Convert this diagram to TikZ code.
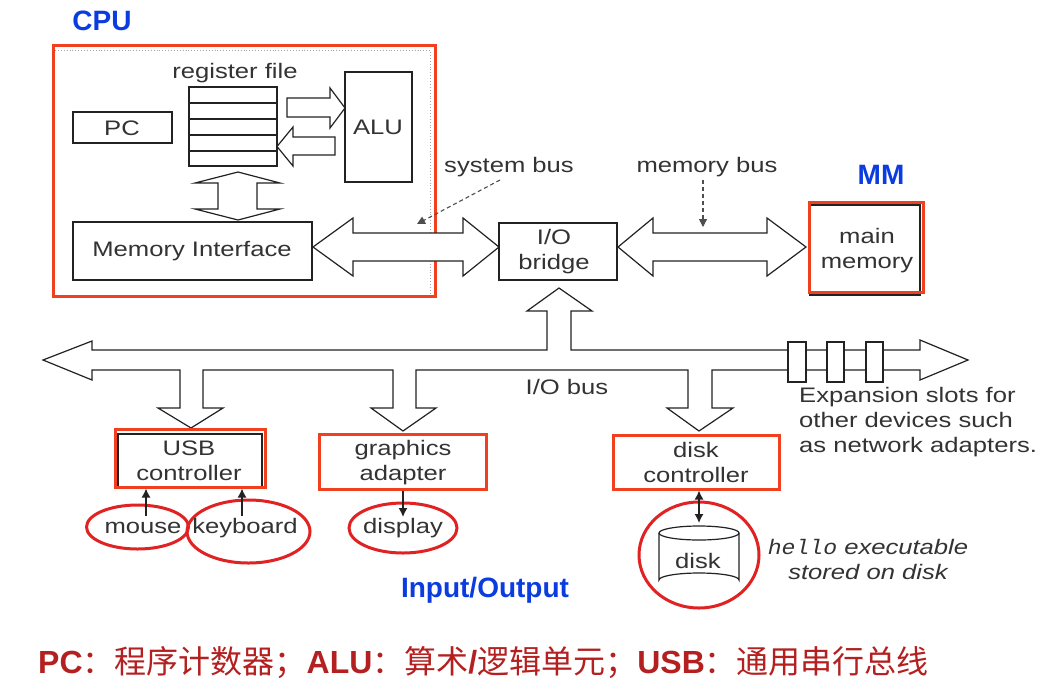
\documentclass[tikz,border=0pt]{standalone}
\usepackage{fontspec}
\setmainfont{Liberation Sans}
\newfontfamily\dg[FakeStretch=1.22]{Liberation Sans}
\newfontfamily\dgmono[FakeStretch=1.1]{Liberation Mono}
\newfontfamily\cjk{Noto Sans CJK SC}
\usetikzlibrary{fit,arrows.meta,calc,shapes.geometric}
\definecolor{lnc}{HTML}{222222}
\definecolor{txc}{HTML}{333333}
\definecolor{redbx}{HTML}{F04020}
\definecolor{redel}{HTML}{E02222}
\definecolor{bluel}{HTML}{0A3CE0}
\definecolor{darkred}{HTML}{B42020}
\tikzset{
  box/.style={draw=lnc, line width=1.3pt, inner sep=0pt},
  redbox/.style={draw=redbx, line width=3pt, inner sep=0pt},
  redell/.style={draw=redel, line width=3pt, ellipse, inner sep=0pt},
  lbl/.style={text=txc, inner sep=0pt, align=center, font=\dg\fontsize{21}{25}\selectfont},
  bigl/.style={text=bluel, inner sep=0pt, font=\bfseries\fontsize{28}{30}\selectfont},
  barrow/.style={draw=lnc, fill=white, line width=1.2pt, line join=miter},
  conn/.style={draw=lnc, line width=1.4pt, >={Latex[length=9pt,width=9pt]}},
  ptr/.style={draw=lnc!80, line width=1.1pt, dashed, dash pattern=on 4pt off 3pt,
    -{Triangle[length=8pt,width=8pt]}},
}
\begin{document}
\begin{tikzpicture}[x=1pt,y=-1pt]
\useasboundingbox (0,0) rectangle (1046,697);
\fill[white] (0,0) rectangle (1046,697);

% ---------- CPU ----------
\node[bigl] (cpulbl) at (102,21) {CPU};
\draw[gray!70, line width=0.9pt, dotted] (55,50) -- (430,50) -- (430,294);
\node[redbox, fit={(53,45) (435,296)}] (cpu) {};

\node[lbl] (reglbl) at (235,73) {register file};
\node[box, fit={(189,87) (277,166)}] (reg) {};
\foreach \yy in {103,119,135,151}
  \draw[lnc, line width=2.4pt] (189,\yy) -- (277,\yy);
\node[box, fit={(73,112) (172,143)}] (pc) {};
\node[lbl] (pct) at (122,128) {PC};
\node[box, fit={(345,72) (412,182)}] (alu) {};
\node[lbl] (alut) at (378,127) {ALU};
\node[box, fit={(73,222) (312,280)}] (memif) {};
\node[lbl] (memift) at (192,251) {Memory Interface};

% register -> ALU
\draw[barrow] (287,98) -- (330,98) -- (330,88) -- (345,108) -- (330,128)
  -- (330,117) -- (287,117) -- cycle;
% ALU -> register
\draw[barrow] (335,137) -- (293,137) -- (293,127) -- (277,146.5) -- (293,166)
  -- (293,155) -- (335,155) -- cycle;
% register <-> memory interface
\draw[barrow] (238,172) -- (280,183) -- (257,183) -- (257,209) -- (280,209)
  -- (238,220) -- (195,209) -- (218,209) -- (218,183) -- (195,183) -- cycle;

% ---------- buses ----------
\node[box, fit={(499,223) (617,280)}] (bridge) {};
\node[lbl] (bridget) at (554,252) {I/O\\bridge};
\node[box, fit={(810,205) (920,295)}] (mmblk) {};
\node[redbox, fit={(809,202) (923,292)}] (mm) {};
\node[lbl] (mmt) at (867,251) {main\\memory};
\node[bigl] (mmlbl) at (881,175) {MM};

% system bus
\draw[barrow] (313,247) -- (353,218) -- (353,233) -- (463,233) -- (463,218)
  -- (499,247) -- (463,276) -- (463,261) -- (353,261) -- (353,276) -- cycle;
% memory bus
\draw[barrow] (618,247) -- (653,218) -- (653,233) -- (767,233) -- (767,218)
  -- (806,247) -- (767,276) -- (767,261) -- (653,261) -- (653,276) -- cycle;

\node[lbl] (sysbus) at (509,167) {system bus};
\node[lbl] (membus) at (707,167) {memory bus};
\coordinate (sbtip) at (417,224);
\coordinate (mbtip) at (703,227);
\draw[ptr] ([xshift=-9pt,yshift=-3pt]sysbus.south) -- (sbtip);
\draw[ptr] ([xshift=-4pt,yshift=-3pt]membus.south) -- (mbtip);

% I/O bus
\draw[barrow] (43,360) -- (92,341) -- (92,350) -- (547,350) -- (547,311)
  -- (527,311) -- (559,288) -- (592,311) -- (571,311) -- (571,350)
  -- (920,350) -- (920,340) -- (968,360) -- (920,380) -- (920,370)
  -- (712,370) -- (712,408) -- (733,408) -- (699,431) -- (667,408) -- (688,408)
  -- (688,370) -- (416,370) -- (416,408) -- (436,408) -- (403,431) -- (371,408)
  -- (393,408) -- (393,370) -- (203,370) -- (203,408) -- (223,408) -- (191,428)
  -- (158,408) -- (180,408) -- (180,370) -- (92,370) -- (92,380) -- cycle;
\foreach \xa/\xb in {788/806, 827/844, 866/883}
  \draw[lnc, fill=white, line width=1.2pt] (\xa,342) rectangle (\xb,382);
\node[lbl] (iobus) at (567,387) {I/O bus};
\node[lbl, align=left, anchor=west] (exp) at (799,422)
  {Expansion slots for\\other devices such\\as network adapters.};

% ---------- devices ----------
\node[box, fit={(118,434) (262,487)}] (usbblk) {};
\node[redbox, fit={(115,429) (265,487)}] (usb) {};
\node[lbl] (usbt) at (189,461) {USB\\controller};
\node[redbox, fit={(319,434) (486,489)}] (gfx) {};
\node[lbl] (gfxt) at (403,463) {graphics\\adapter};
\node[redbox, fit={(613,435) (779,489)}] (dc) {};
\node[lbl] (dct) at (696,462) {disk\\controller};

\node[redell, minimum width=102pt, minimum height=44pt] (mouseE) at (137.5,527) {};
\node[redell, minimum width=123pt, minimum height=63pt] (kbE) at (248.5,531.5) {};
\node[redell, minimum width=108pt, minimum height=50pt] (dispE) at (403,528) {};
\node[redell, minimum width=120pt, minimum height=106pt] (diskE) at (699,555) {};

\node[lbl] (mouse) at (143,528) {mouse};
\node[lbl] (kb) at (245,528) {keyboard};
\node[lbl] (disp) at (403,528) {display};

\coordinate (ms) at (146,516);
\coordinate (ks) at (242,516);
\coordinate (ds) at (403,517);
\coordinate (dk) at (699,523);
\draw[conn, ->] (ms) -- (ms |- usb.south);
\draw[conn, ->] (ks) -- (ks |- usb.south);
\draw[conn, ->] (ds |- gfx.south) -- (ds);
\draw[conn, <->] (dk |- dc.south) -- (dk);

% disk cylinder
\draw[lnc, line width=1.2pt, fill=white] (659,533) -- (659,580) arc[start angle=180, end angle=360, x radius=40, y radius=7] -- (739,533);
\draw[lnc, line width=1.2pt, fill=white] (699,533) ellipse[x radius=40, y radius=7];
\node[lbl] (disk) at (698,561) {disk};

\node[lbl, font=\dg\itshape\fontsize{21}{25}\selectfont] (hello) at (868,559)
  {{\dgmono\itshape hello} executable\\stored on disk};

\node[bigl] (iolbl) at (485,590) {Input/Output};

% ---------- footnote ----------
\node[anchor=west, inner sep=0pt, text=darkred, font=\fontsize{32}{34}\selectfont] (note) at (38,663)
  {\textbf{PC}\cjk：程序计数器；\rmfamily\textbf{ALU}\cjk：算术\rmfamily\textbf{/}\cjk 逻辑单元；\rmfamily\textbf{USB}\cjk：通用串行总线};
\end{tikzpicture}
\end{document}
